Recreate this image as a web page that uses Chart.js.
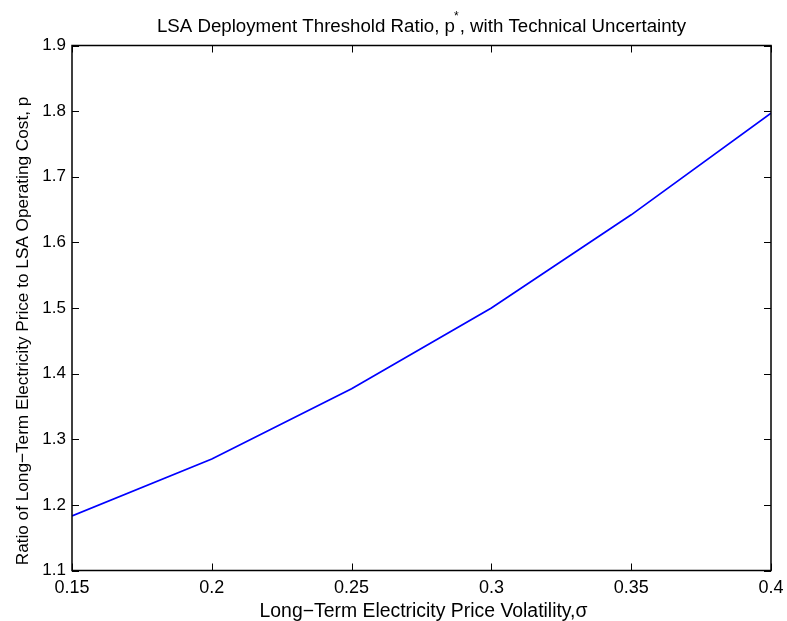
<!DOCTYPE html>
<html>
<head>
<meta charset="utf-8">
<script src="https://cdn.jsdelivr.net/npm/chart.js@4/dist/chart.umd.min.js"></script>
<style>
  html, body { margin: 0; padding: 0; background: #fff; }
  #wrap { width: 787px; height: 621px; position: relative; }
</style>
</head>
<body>
<div id="wrap"><canvas id="c" width="787" height="621"></canvas></div>
<script>
// Volatility values (sigma) and resulting threshold ratio p*
const volatility = [0.15, 0.20, 0.25, 0.30, 0.35, 0.40];
const thresholdRatio = [1.183, 1.270, 1.377, 1.500, 1.642, 1.797];
const xTicks = [0.15, 0.2, 0.25, 0.3, 0.35, 0.4];
const yTicks = [1.1, 1.2, 1.3, 1.4, 1.5, 1.6, 1.7, 1.8, 1.9];

const titleParts = ['LSA Deployment Threshold Ratio, p', '*', ', with Technical Uncertainty'];
const xTitle = 'Long\u2212Term Electricity Price Volatility,\u03c3';
const yTitle = 'Ratio of Long\u2212Term Electricity Price to LSA Operating Cost, p';

const FONT = '"Liberation Sans", Arial, Helvetica, sans-serif';

// Box frame, inward ticks on all four sides, plus title and axis labels
const framePlugin = {
  id: 'frame',
  afterDraw(chart) {
    const { ctx, chartArea: a, scales: { x, y } } = chart;
    ctx.save();
    ctx.strokeStyle = '#000';
    ctx.lineWidth = 1;
    const tl = 7;
    ctx.beginPath();
    xTicks.forEach(v => {
      const px = Math.round(x.getPixelForValue(v)) + 0.5;
      ctx.moveTo(px, a.bottom); ctx.lineTo(px, a.bottom - tl);
      ctx.moveTo(px, a.top); ctx.lineTo(px, a.top + tl);
    });
    yTicks.forEach(v => {
      const py = Math.round(y.getPixelForValue(v)) + 0.5;
      ctx.moveTo(a.left, py); ctx.lineTo(a.left + tl, py);
      ctx.moveTo(a.right, py); ctx.lineTo(a.right - tl, py);
    });
    ctx.stroke();
    ctx.lineWidth = 1.5;
    ctx.strokeRect(a.left, a.top, a.right - a.left, a.bottom - a.top);

    ctx.fillStyle = '#000';
    ctx.textBaseline = 'alphabetic';
    // Title with superscript asterisk
    const mainFont = '18.7px ' + FONT;
    const supFont = '12px ' + FONT;
    ctx.font = mainFont;
    const w0 = ctx.measureText(titleParts[0]).width;
    const w2 = ctx.measureText(titleParts[2]).width;
    ctx.font = supFont;
    const w1 = ctx.measureText(titleParts[1]).width;
    const total = w0 + w1 + w2;
    let tx = (a.left + a.right) / 2 - total / 2;
    const ty = 31.5;
    ctx.textAlign = 'left';
    ctx.font = mainFont;
    ctx.fillText(titleParts[0], tx, ty);
    tx += w0;
    ctx.font = supFont;
    ctx.fillText(titleParts[1], tx - 1, ty - 12);
    tx += w1;
    ctx.font = mainFont;
    ctx.fillText(titleParts[2], tx, ty);

    // Axis titles
    ctx.textAlign = 'center';
    ctx.font = '19.4px ' + FONT;
    ctx.fillText(xTitle, (a.left + a.right) / 2 + 2, 616.5);
    ctx.save();
    ctx.translate(27.5, 331);
    ctx.rotate(-Math.PI / 2);
    ctx.font = '17.2px ' + FONT;
    ctx.fillText(yTitle, 0, 0);
    ctx.restore();
    ctx.restore();
  }
};

new Chart(document.getElementById('c'), {
  type: 'line',
  data: {
    datasets: [{
      data: volatility.map((v, i) => ({ x: v, y: thresholdRatio[i] })),
      borderColor: '#0000ff',
      borderWidth: 1.7,
      pointRadius: 0,
      tension: 0,
      fill: false
    }]
  },
  options: {
    responsive: false,
    animation: false,
    events: [],
    layout: { padding: { top: 45.5, right: 16, left: 0, bottom: 0 } },
    plugins: { legend: { display: false }, tooltip: { enabled: false }, title: { display: false } },
    scales: {
      x: {
        type: 'linear',
        min: 0.15, max: 0.4,
        afterFit(s) { s.height = 50.5; s.paddingLeft = 0; s.paddingRight = 0; },
        afterBuildTicks(s) { s.ticks = xTicks.map(v => ({ value: v })); },
        grid: { display: false, drawTicks: false },
        border: { display: false },
        ticks: {
          color: '#000', padding: 7,
          font: { family: FONT, size: 18 },
          maxRotation: 0, autoSkip: false,
          callback: v => String(+v.toFixed(2))
        }
      },
      y: {
        type: 'linear',
        min: 1.1, max: 1.9,
        afterFit(s) { s.width = 72; s.paddingTop = 0; s.paddingBottom = 0; },
        afterBuildTicks(s) { s.ticks = yTicks.map(v => ({ value: v })); },
        grid: { display: false, drawTicks: false },
        border: { display: false },
        ticks: {
          color: '#000', padding: 6,
          font: { family: FONT, size: 17 },
          autoSkip: false,
          callback: v => (+v).toFixed(1)
        }
      }
    }
  },
  plugins: [framePlugin]
});
</script>
</body>
</html>
